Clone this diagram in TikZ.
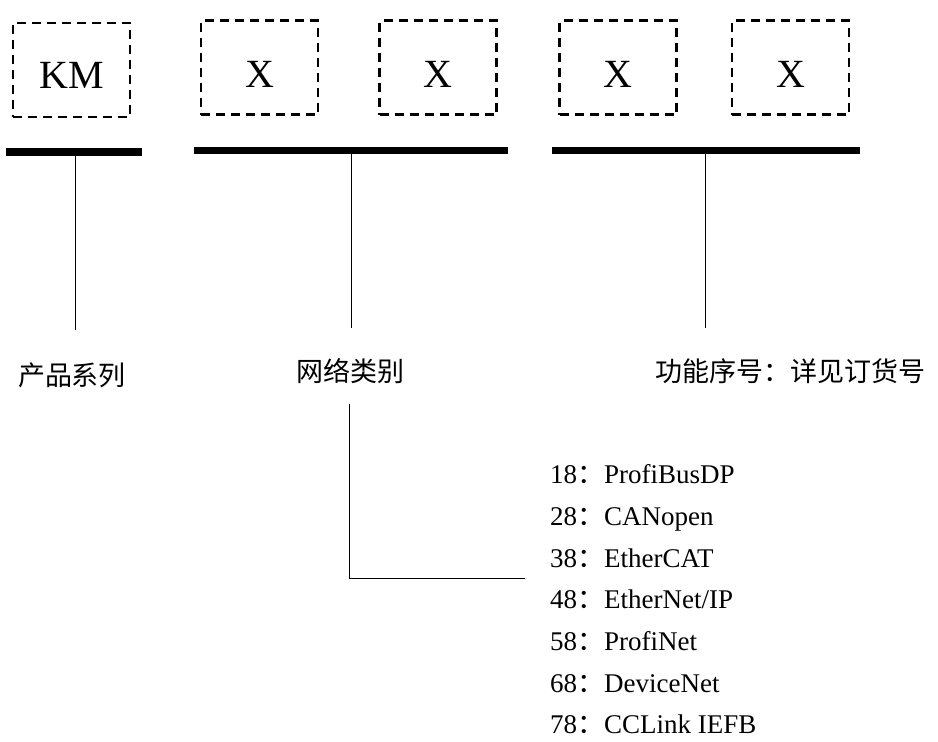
\documentclass[tikz,border=0pt]{standalone}
\usepackage{fontspec}
\setmainfont{Liberation Serif}
\newfontfamily\cjk{Noto Sans CJK SC}
\begin{document}
\begin{tikzpicture}[x=1pt,y=-1pt,
  codebox/.style={draw=black,line width=2.4pt,dash pattern=on 9pt off 6pt,minimum width=117pt,minimum height=94pt,inner sep=0pt},
  codetext/.style={font=\fontsize{40}{40}\selectfont,inner sep=0pt,anchor=base},
  bar/.style={line width=7.5pt,line cap=butt,draw=black},
  conn/.style={line width=1pt,draw=black},
  cnlabel/.style={font=\cjk\fontsize{27}{27}\selectfont,inner sep=0pt,anchor=base},
  item/.style={font=\fontsize{27}{27}\selectfont,inner sep=0pt,anchor=base west}]
\useasboundingbox (0,0) rectangle (938,742);
% code boxes
\node[codebox] (bkm) at (71.5,70) {};
\node[codebox] (bx1) at (259.5,67.5) {};
\node[codebox] (bx2) at (438,67.5) {};
\node[codebox] (bx3) at (618,67.5) {};
\node[codebox] (bx4) at (790.5,67.5) {};
\node[codetext] (tkm) at (71.5,88) {KM};
\node[codetext] (tx1) at (259.5,87) {X};
\node[codetext] (tx2) at (438,87) {X};
\node[codetext] (tx3) at (618,87) {X};
\node[codetext] (tx4) at (790.5,87) {X};
% bars
\coordinate (b1w) at (6,152);   \coordinate (b1e) at (142,152);
\coordinate (b2w) at (194,150.5); \coordinate (b2m) at (330,150.5); \coordinate (b2e) at (508,150.5);
\coordinate (b3w) at (552,150.5); \coordinate (b3m) at (688,150.5); \coordinate (b3e) at (860,150.5);
\draw[bar] (b1w) -- (b1e);
\draw[bar] (b2w) -- (b2m);
\draw[bar] (b2m) -- (b2e);
\draw[bar] (b3w) -- (b3m);
\draw[bar] (b3m) -- (b3e);
% connectors from bars
\coordinate (v1a) at (75,155); \coordinate (v1b) at (75,330);
\coordinate (v2a) at (351,154); \coordinate (v2b) at (351,328);
\coordinate (v3a) at (705,154); \coordinate (v3b) at (705,328);
\draw[conn] (v1a) -- (v1b);
\draw[conn] (v2a) -- (v2b);
\draw[conn] (v3a) -- (v3b);
% labels
\node[cnlabel] (l1) at (72,385) {产品系列};
\node[cnlabel] (l2) at (350.5,381.5) {网络类别};
\node[cnlabel] (l3) at (790,381.5) {功能序号：详见订货号};
% network connector
\coordinate (n1) at (349,404); \coordinate (n2) at (349,578); \coordinate (n3) at (525,578);
\draw[conn] (n1) -- (n2) -- (n3);
% list
\node[item] (i1) at (550,483) {18{\cjk ：}ProfiBusDP};
\node[item] (i2) at (550,525) {28{\cjk ：}CANopen};
\node[item] (i3) at (550,567) {38{\cjk ：}EtherCAT};
\node[item] (i4) at (550,608) {48{\cjk ：}EtherNet/IP};
\node[item] (i5) at (550,650) {58{\cjk ：}ProfiNet};
\node[item] (i6) at (550,692) {68{\cjk ：}DeviceNet};
\node[item] (i7) at (550,733) {78{\cjk ：}CCLink IEFB};
\end{tikzpicture}
\end{document}
